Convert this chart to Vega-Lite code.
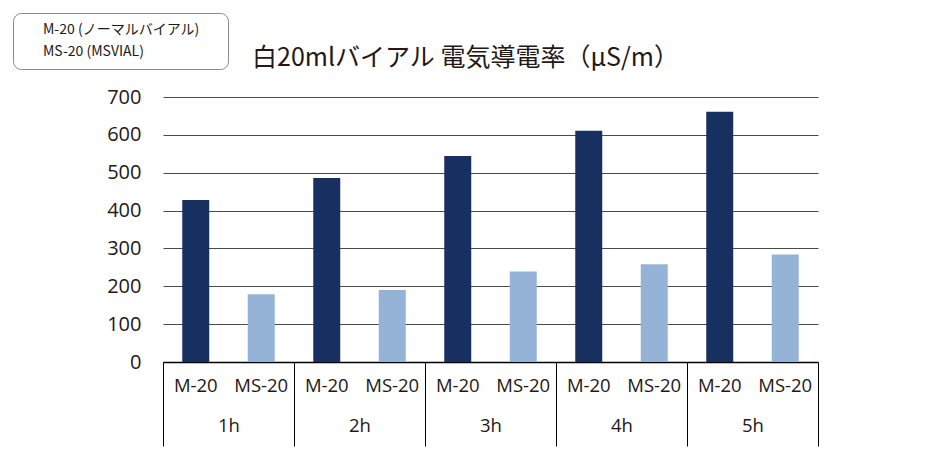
{
  "$schema": "https://vega.github.io/schema/vega-lite/v6.json",
  "width": 655,
  "height": 265,
  "padding": {"left": 12, "top": 12, "right": 5, "bottom": 5},
  "background": "white",
  "config": {"view": {"stroke": null}},
  "title": {
    "text": "白20mlバイアル 電気導電率（μS/m）",
    "font": "Noto Sans CJK JP",
    "fontSize": 25,
    "fontWeight": "normal",
    "color": "#231815",
    "anchor": "middle",
    "dx": -25,
    "offset": -58
  },
  "data": {
    "values": [
      {"hour": "1h", "series": "M-20", "value": 428},
      {"hour": "1h", "series": "MS-20", "value": 179},
      {"hour": "2h", "series": "M-20", "value": 486},
      {"hour": "2h", "series": "MS-20", "value": 190},
      {"hour": "3h", "series": "M-20", "value": 544},
      {"hour": "3h", "series": "MS-20", "value": 239},
      {"hour": "4h", "series": "M-20", "value": 611},
      {"hour": "4h", "series": "MS-20", "value": 258},
      {"hour": "5h", "series": "M-20", "value": 661},
      {"hour": "5h", "series": "MS-20", "value": 284}
    ]
  },
  "encoding": {
    "x": {
      "field": "hour",
      "type": "nominal",
      "sort": ["1h", "2h", "3h", "4h", "5h"],
      "scale": {"paddingInner": 0, "paddingOuter": 0},
      "axis": {
        "title": null,
        "labelAngle": 0,
        "domain": true,
        "domainColor": "#000000",
        "domainWidth": 1.5,
        "ticks": true,
        "tickBand": "extent",
        "tickSize": 84,
        "tickColor": "#000000",
        "tickWidth": 1,
        "labelPadding": -21,
        "labelBaseline": "middle",
        "labelFont": "Open Sans",
        "labelFontSize": 18.5,
        "labelColor": "#231815"
      }
    },
    "xOffset": {
      "field": "series",
      "type": "nominal",
      "sort": ["M-20", "MS-20"],
      "scale": {"paddingInner": 0.588, "paddingOuter": 0.294}
    }
  },
  "layer": [
    {
      "mark": {"type": "bar"},
      "encoding": {
        "y": {
          "field": "value",
          "type": "quantitative",
          "scale": {"domain": [0, 700], "nice": false},
          "axis": {
            "title": null,
            "values": [0, 100, 200, 300, 400, 500, 600, 700],
            "domain": false,
            "ticks": false,
            "grid": true,
            "gridColor": "#4a4a4a",
            "gridWidth": 1,
            "labelPadding": 22,
            "labelFont": "Open Sans",
            "labelFontSize": 20,
            "labelColor": "#231815"
          }
        },
        "color": {
          "field": "series",
          "type": "nominal",
          "scale": {"domain": ["M-20", "MS-20"], "range": ["#17305F", "#95B3D7"]},
          "legend": {
            "orient": "none",
            "legendX": -150,
            "legendY": -84,
            "title": "M-2",
            "titleOrient": "right",
            "titleColor": "white",
            "titleFontSize": 11,
            "titlePadding": 0,
            "symbolSize": 0,
            "symbolOpacity": 0,
            "symbolStrokeWidth": 0,
            "labelOffset": 6,
            "padding": 10,
            "rowPadding": 8,
            "labelFont": "Noto Sans CJK JP",
            "labelFontSize": 14,
            "labelColor": "#231815",
            "fillColor": "white",
            "strokeColor": "#888888",
            "cornerRadius": 8,
            "labelExpr": "datum.label == 'M-20' ? 'M-20 (ノーマルバイアル)' : 'MS-20 (MSVIAL)'"
          }
        }
      }
    },
    {
      "mark": {
        "type": "text",
        "dy": 24,
        "baseline": "middle",
        "font": "Open Sans",
        "fontSize": 18.5,
        "color": "#231815"
      },
      "encoding": {
        "y": {
          "datum": 0,
          "type": "quantitative",
          "axis": {
            "title": null,
            "values": [0, 100, 200, 300, 400, 500, 600, 700],
            "domain": false,
            "ticks": false,
            "grid": true,
            "gridColor": "#4a4a4a",
            "gridWidth": 1,
            "labelPadding": 22,
            "labelFont": "Open Sans",
            "labelFontSize": 20,
            "labelColor": "#231815"
          }
        },
        "text": {"field": "series"}
      }
    }
  ]
}
